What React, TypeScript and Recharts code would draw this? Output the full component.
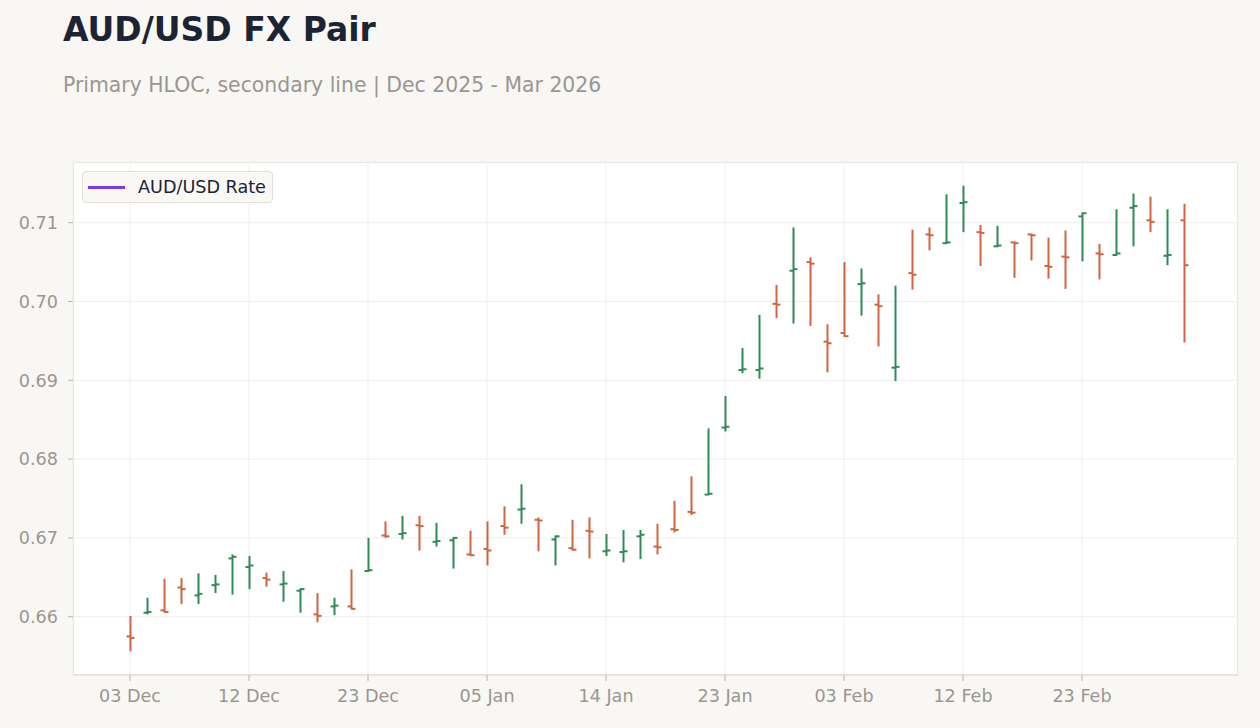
import { ComposedChart, Bar, XAxis, YAxis, CartesianGrid } from 'recharts'

// 63 trading days, Dec 2025 - Mar 2026
const dates = [
  '03 Dec', '04 Dec', '05 Dec', '08 Dec', '09 Dec', '10 Dec', '11 Dec', '12 Dec', '15 Dec', '16 Dec',
  '17 Dec', '18 Dec', '19 Dec', '22 Dec', '23 Dec', '24 Dec', '26 Dec', '29 Dec', '30 Dec', '31 Dec',
  '02 Jan', '05 Jan', '06 Jan', '07 Jan', '08 Jan', '09 Jan', '12 Jan', '13 Jan', '14 Jan', '15 Jan',
  '16 Jan', '19 Jan', '20 Jan', '21 Jan', '22 Jan', '23 Jan', '26 Jan', '27 Jan', '28 Jan', '29 Jan',
  '30 Jan', '02 Feb', '03 Feb', '04 Feb', '05 Feb', '06 Feb', '09 Feb', '10 Feb', '11 Feb', '12 Feb',
  '13 Feb', '16 Feb', '17 Feb', '18 Feb', '19 Feb', '20 Feb', '23 Feb', '24 Feb', '25 Feb', '26 Feb',
  '27 Feb', '02 Mar', '03 Mar',
]

const opens = [
  0.6575, 0.6605, 0.6608, 0.6637, 0.6627, 0.6640, 0.6674, 0.6663, 0.6649, 0.6641,
  0.6633, 0.6603, 0.6613, 0.6613, 0.6658, 0.6703, 0.6705, 0.6716, 0.6695, 0.6697,
  0.6679, 0.6686, 0.6715, 0.6736, 0.6723, 0.6698, 0.6687, 0.6709, 0.6683, 0.6682,
  0.6702, 0.6689, 0.6711, 0.6733, 0.6755, 0.6840, 0.6913, 0.6913, 0.6997, 0.7039,
  0.7050, 0.6949, 0.6960, 0.7022, 0.6996, 0.6916, 0.7036, 0.7085, 0.7074, 0.7125,
  0.7088, 0.7070, 0.7075, 0.7085, 0.7045, 0.7057, 0.7108, 0.7061, 0.7059, 0.7119,
  0.7103, 0.7058, 0.7103,
]
const highs = [
  0.6601, 0.6624, 0.6648, 0.6649, 0.6655, 0.6653, 0.6679, 0.6677, 0.6656, 0.6658,
  0.6636, 0.6630, 0.6624, 0.6660, 0.6700, 0.6721, 0.6728, 0.6728, 0.6719, 0.6701,
  0.6709, 0.6721, 0.6740, 0.6768, 0.6726, 0.6703, 0.6723, 0.6726, 0.6705, 0.6710,
  0.6710, 0.6718, 0.6747, 0.6778, 0.6839, 0.6880, 0.6941, 0.6983, 0.7021, 0.7094,
  0.7056, 0.6971, 0.7050, 0.7042, 0.7009, 0.7020, 0.7091, 0.7094, 0.7136, 0.7147,
  0.7097, 0.7096, 0.7076, 0.7086, 0.7081, 0.7090, 0.7113, 0.7073, 0.7117, 0.7137,
  0.7133, 0.7117, 0.7124,
]
const lows = [
  0.6556, 0.6603, 0.6605, 0.6616, 0.6616, 0.6630, 0.6628, 0.6635, 0.6638, 0.6619,
  0.6605, 0.6593, 0.6602, 0.6609, 0.6657, 0.6700, 0.6698, 0.6684, 0.6689, 0.6661,
  0.6677, 0.6665, 0.6704, 0.6718, 0.6683, 0.6665, 0.6684, 0.6674, 0.6677, 0.6669,
  0.6673, 0.6679, 0.6707, 0.6729, 0.6754, 0.6835, 0.6909, 0.6902, 0.6979, 0.6972,
  0.6969, 0.6910, 0.6955, 0.6982, 0.6943, 0.6899, 0.7015, 0.7065, 0.7073, 0.7088,
  0.7045, 0.7069, 0.7030, 0.7052, 0.7029, 0.7016, 0.7051, 0.7028, 0.7058, 0.7070,
  0.7088, 0.7046, 0.6948,
]
const closes = [
  0.6573, 0.6606, 0.6606, 0.6635, 0.6629, 0.6641, 0.6676, 0.6665, 0.6647, 0.6642,
  0.6635, 0.6601, 0.6614, 0.6610, 0.6659, 0.6702, 0.6706, 0.6715, 0.6696, 0.6700,
  0.6678, 0.6684, 0.6713, 0.6737, 0.6722, 0.6702, 0.6685, 0.6708, 0.6684, 0.6683,
  0.6704, 0.6688, 0.6710, 0.6732, 0.6756, 0.6841, 0.6914, 0.6915, 0.6996, 0.7041,
  0.7048, 0.6947, 0.6956, 0.7023, 0.6994, 0.6917, 0.7034, 0.7084, 0.7075, 0.7126,
  0.7087, 0.7071, 0.7074, 0.7084, 0.7044, 0.7056, 0.7112, 0.7060, 0.7061, 0.7121,
  0.7101, 0.7059, 0.7046,
]

const xTicks = ['03 Dec', '12 Dec', '23 Dec', '05 Jan', '14 Jan', '23 Jan', '03 Feb', '12 Feb', '23 Feb']
const yTicks = [0.66, 0.67, 0.68, 0.69, 0.7, 0.71]

const UP = '#2e8b57'
const DOWN = '#cf6440'
const FONT = '"DejaVu Sans", sans-serif'
const TICK_COLOR = '#9a9690'

const data = dates.map((date, i) => ({
  date,
  open: opens[i],
  high: highs[i],
  low: lows[i],
  close: closes[i],
}))

// draws one HLOC bar inside the rect recharts gives for [low, high]
function OhlcShape(props: any) {
  const { x, y, width, height, payload } = props
  const { open, high, low, close } = payload
  const cx = x + width / 2
  const toY = (v: number) => y + ((high - v) / (high - low)) * height
  const color = close >= open ? UP : DOWN
  const yo = toY(open)
  const yc = toY(close)
  return (
    <g stroke={color} strokeWidth={2}>
      <line x1={cx} x2={cx} y1={y} y2={y + height} />
      <line x1={cx - 4} x2={cx} y1={yo} y2={yo} />
      <line x1={cx} x2={cx + 4} y1={yc} y2={yc} />
    </g>
  )
}

export default function App() {
  return (
    <div
      style={{
        position: 'absolute',
        left: 0,
        top: 0,
        width: 1260,
        height: 728,
        background: '#f8f7f4',
        fontFamily: FONT,
        overflow: 'hidden',
      }}
    >
      <div style={{ position: 'absolute', left: 63, top: 13, fontSize: 33, lineHeight: 1, fontWeight: 700, color: '#1c2434', whiteSpace: 'nowrap' }}>
        AUD/USD FX Pair
      </div>
      <div style={{ position: 'absolute', left: 63, top: 75, fontSize: 20.4, lineHeight: 1, color: '#9a9690', whiteSpace: 'nowrap' }}>
        Primary HLOC, secondary line | Dec 2025 - Mar 2026
      </div>

      {/* plot frame */}
      <div
        style={{
          position: 'absolute',
          left: 73,
          top: 162,
          width: 1165,
          height: 513,
          background: '#ffffff',
          boxShadow: 'inset 0 0 0 1px #e0dcd5',
        }}
      />

      <div style={{ position: 'absolute', left: 0, top: 0 }}>
        <ComposedChart
          width={1260}
          height={728}
          data={data}
          margin={{ top: 162, right: 22, bottom: 13, left: 13 }}
        >
          <CartesianGrid stroke="#efefef" strokeWidth={1} />
          <XAxis
            dataKey="date"
            ticks={xTicks}
            interval={0}
            padding={{ left: 48.5, right: 45.5 }}
            height={40}
            axisLine={{ stroke: '#e0dcd5' }}
            tickLine={{ stroke: '#b8b4ae' }}
            tickSize={6}
            tickMargin={9}
            tick={{ fill: TICK_COLOR, fontSize: 17.6, fontFamily: FONT }}
          />
          <YAxis
            domain={[0.6526, 0.7177]}
            ticks={yTicks}
            width={60}
            axisLine={false}
            tickLine={{ stroke: '#b8b4ae' }}
            tickSize={5}
            tickMargin={10}
            tickFormatter={(v: number) => v.toFixed(2)}
            tick={{ fill: TICK_COLOR, fontSize: 17.6, fontFamily: FONT }}
          />
          <Bar
            dataKey={(d: any) => [d.low, d.high]}
            barSize={8}
            shape={OhlcShape}
            isAnimationActive={false}
          />
        </ComposedChart>
      </div>

      {/* legend for the secondary line */}
      <div
        style={{
          position: 'absolute',
          left: 82,
          top: 171,
          width: 191,
          height: 32,
          boxSizing: 'border-box',
          background: '#f9f8f5',
          border: '1px solid #e2dfda',
          borderRadius: 4,
          display: 'flex',
          alignItems: 'center',
        }}
      >
        <div style={{ marginLeft: 5, width: 37, height: 3, background: '#7c3aed' }} />
        <span style={{ marginLeft: 13, fontSize: 17.6, color: '#1c2434', whiteSpace: 'nowrap' }}>AUD/USD Rate</span>
      </div>
    </div>
  )
}
